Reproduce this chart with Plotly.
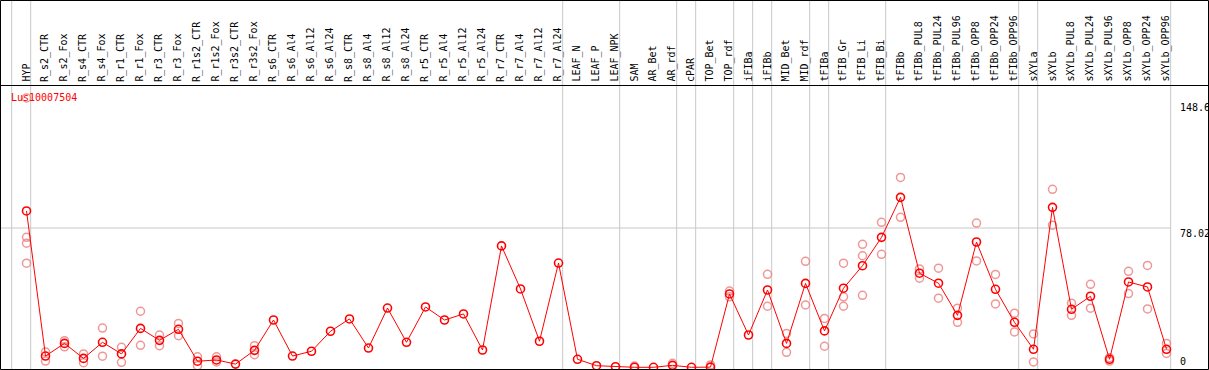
import plotly.graph_objects as go

categories = ["HYP", "R_s2_CTR", "R_s2_Fox", "R_s4_CTR", "R_s4_Fox", "R_r1_CTR", "R_r1_Fox",
              "R_r3_CTR", "R_r3_Fox", "R_r1s2_CTR", "R_r1s2_Fox", "R_r3s2_CTR", "R_r3s2_Fox",
              "R_s6_CTR", "R_s6_Al4", "R_s6_Al12", "R_s6_Al24", "R_s8_CTR", "R_s8_Al4",
              "R_s8_Al12", "R_s8_Al24", "R_r5_CTR", "R_r5_Al4", "R_r5_Al12", "R_r5_Al24",
              "R_r7_CTR", "R_r7_Al4", "R_r7_Al12", "R_r7_Al24", "LEAF_N", "LEAF_P", "LEAF_NPK",
              "SAM", "AR_Bet", "AR_rdf", "cPAR", "TOP_Bet", "TOP_rdf", "iFIBa", "iFIBb",
              "MID_Bet", "MID_rdf", "tFIBa", "tFIB_Gr", "tFIB_Li", "tFIB_Bi", "tFIBb",
              "tFIBb_PUL8", "tFIBb_PUL24", "tFIBb_PUL96", "tFIBb_OPP8", "tFIBb_OPP24",
              "tFIBb_OPP96", "sXYLa", "sXYLb", "sXYLb_PUL8", "sXYLb_PUL24", "sXYLb_PUL96",
              "sXYLb_OPP8", "sXYLb_OPP24", "sXYLb_OPP96"]

mean_values = [87.6, 6.3, 13.4, 5.0, 14.0, 7.5, 21.8, 15.1, 21.3, 3.4, 4.1, 1.8, 9.5,
               26.5, 6.3, 9.0, 20.2, 27.1, 10.8, 33.2, 14.0, 33.8, 26.5, 29.9, 9.7,
               68.0, 43.9, 14.6, 58.4, 4.5, 0.9, 0.3, 0.0, 0.0, 1.1, 0.0, 0.1,
               41.1, 18.1, 43.3, 13.4, 47.0, 20.4, 44.3, 56.9, 72.8, 95.2,
               52.7, 47.1, 29.1, 70.2, 43.7, 25.2, 10.1, 89.6, 32.5, 39.8, 4.5,
               47.8, 45.0, 10.1]

replicates = [[150.9, 72.8, 69.5, 58.3], [8.6, 3.5], [14.9, 11.5], [7.5, 2.6], [22.0, 6.2],
              [11.2, 2.8], [31.4, 12.3], [18.1, 12.1], [24.6, 17.7], [5.9, 0.9], [5.9, 3.0],
              [], [12.1, 7.1], [], [], [], [], [], [], [], [], [], [], [], [], [], [], [], [],
              [], [], [], [0.7], [], [2.2], [], [1.3], [42.7, 39.5], [], [52.1, 34.2],
              [19.0, 8.4], [59.4, 34.9], [27.4, 11.8], [58.3, 39.5, 34.2], [68.9, 62.5, 40.3],
              [81.2, 63.3], [106.4, 84.0], [55.1, 49.9], [55.5, 38.7], [33.1, 25.2],
              [80.8, 59.6], [52.0, 35.5], [30.3, 19.8], [18.7, 3.0], [99.7, 79.6],
              [35.9, 29.1], [46.5, 33.1], [5.4, 3.5], [53.8, 41.3], [57.1, 32.7], [13.4, 7.8]]

group_breaks = [0, 1, 29, 32, 35, 36, 38, 39, 40, 42, 43, 46, 53, 54, 61]
y_ticks = [148.6, 78.02, 0]
gene = "Lus10007504"

W, H = 1209, 370
FONT = "DejaVu Sans Mono"
x_idx = list(range(1, len(categories) + 1))
x_range = [-7.5 / 19, (W - 7.5) / 19]
top_px, bot_px = 86, 369
y_per_px = 1 / 1.785
y_range = [(367.3 - bot_px) * y_per_px, (367.3 - top_px) * y_per_px]

rx, ry = [], []
for i, reps in zip(x_idx, replicates):
    for v in reps:
        rx.append(i)
        ry.append(v)

fig = go.Figure()
fig.add_trace(go.Scatter(x=rx, y=ry, mode="markers",
                         marker=dict(symbol="circle-open", size=8, color="rgba(235,125,125,0.8)",
                                     line=dict(width=1.5, color="rgba(235,125,125,0.8)")),
                         hoverinfo="y"))
fig.add_trace(go.Scatter(x=x_idx, y=mean_values, mode="lines+markers",
                         line=dict(color="#ff0000", width=1),
                         marker=dict(symbol="circle-open", size=8, color="#ff0000",
                                     line=dict(width=1.6, color="#ff0000")),
                         text=categories, hoverinfo="text+y"))

shapes = []
for b in group_breaks:
    shapes.append(dict(type="line", xref="x", yref="paper", x0=b + 0.22, x1=b + 0.22,
                       y0=0, y1=1, line=dict(color="#c8c8c8", width=1), layer="below"))
shapes.append(dict(type="line", xref="x", yref="y", x0=x_range[0], x1=group_breaks[-1] + 0.22,
                   y0=y_ticks[1], y1=y_ticks[1], line=dict(color="#c8c8c8", width=1), layer="below"))
shapes.append(dict(type="line", xref="paper", yref="paper", x0=0, x1=1,
                   y0=(H - 85.5) / H, y1=(H - 85.5) / H, line=dict(color="black", width=1)))
shapes.append(dict(type="rect", xref="paper", yref="paper", x0=0.5 / W, x1=(W - 0.5) / W,
                   y0=0.5 / H, y1=(H - 0.5) / H, line=dict(color="black", width=1)))

annotations = []
for i, c in zip(x_idx, categories):
    annotations.append(dict(x=i - 0.05, y=(H - 83) / H, xref="x", yref="paper", text=c,
                            textangle=-90, showarrow=False, xanchor="center", yanchor="bottom",
                            font=dict(family=FONT, size=10, color="black"), borderpad=0))
for k, v in enumerate(y_ticks):
    annotations.append(dict(x=1179 / W, y=v, xref="paper", yref="y", text=str(v),
                            showarrow=False, xanchor="left",
                            yanchor="bottom" if v == 0 else "top",
                            yshift=-1 if v == 0 else 1,
                            font=dict(family=FONT, size=10, color="black"), borderpad=0))
annotations.append(dict(x=9.5 / W, y=(H - 97) / H, xref="paper", yref="paper", text=gene,
                        showarrow=False, xanchor="left", yanchor="middle",
                        font=dict(family=FONT, size=10, color="#ff0000"), borderpad=0))

fig.update_layout(
    width=W, height=H, margin=dict(l=0, r=0, t=0, b=0),
    paper_bgcolor="white", plot_bgcolor="white", showlegend=False,
    xaxis=dict(range=x_range, domain=[0, 1], showgrid=False, zeroline=False,
               showticklabels=False, ticks="", fixedrange=True),
    yaxis=dict(range=y_range, domain=[(H - bot_px) / H, (H - top_px) / H], showgrid=False,
               zeroline=False, showticklabels=False, ticks="", fixedrange=True),
    shapes=shapes, annotations=annotations,
)
fig.write_html("out.html", config={"displayModeBar": False},
               post_script="document.body.style.margin='0';document.body.style.overflow='hidden';")
